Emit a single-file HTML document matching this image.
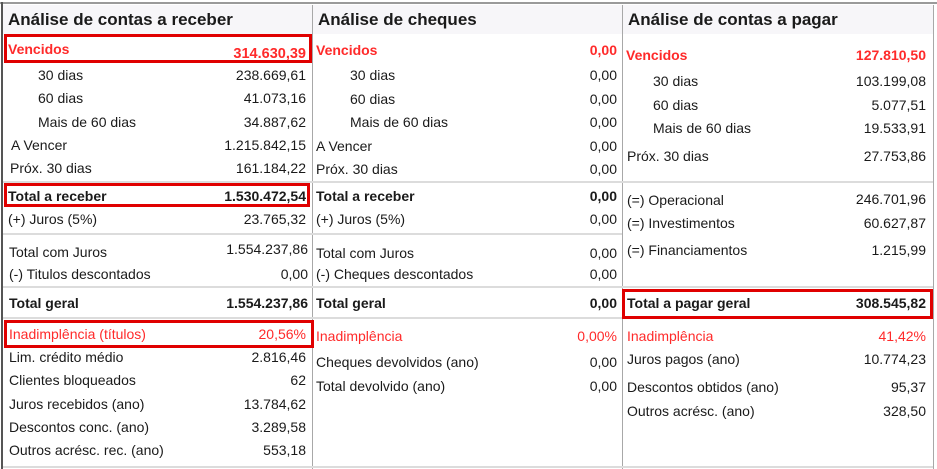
<!DOCTYPE html>
<html><head><meta charset="utf-8"><style>
body{margin:0;width:937px;height:469px;background:#fff;position:relative;overflow:hidden;font-family:"Liberation Sans",Arial,sans-serif;color:#1a1a1a}
.t{position:absolute;font-size:14px;line-height:18px;height:18px;white-space:nowrap;margin-top:1px}
.r{text-align:right}
.b{font-weight:bold}
.red{color:#ff2a2a}
.h{position:absolute;top:5px;height:29px;background:#f7f6f9;font-weight:bold;font-size:17px;line-height:29px;padding-left:5px;box-sizing:border-box}
.v{position:absolute;top:5px;width:1px;height:464px;background:#a8a8a8}
.s{position:absolute;height:2px;background:#dcdcdc}
.box{position:absolute;border:3px solid #e00000;box-sizing:border-box}
</style></head><body>
<div style="position:absolute;left:0;top:2px;width:937px;height:2px;background:#9a9a9a"></div>
<div style="position:absolute;left:1px;top:2px;width:2px;height:467px;background:#555"></div>
<div class="h" style="left:3px;width:309px">Análise de contas a receber</div>
<div class="h" style="left:313px;width:309px">Análise de cheques</div>
<div class="h" style="left:623px;width:310px">Análise de contas a pagar</div>
<div class="v" style="left:312px"></div>
<div class="v" style="left:622px"></div>
<div class="v" style="left:933px"></div>
<div class="s" style="left:3px;top:181px;width:930px"></div>
<div class="s" style="left:3px;top:233px;width:619px"></div>
<div class="s" style="left:3px;top:286px;width:930px"></div>
<div class="s" style="left:3px;top:317px;width:619px"></div>
<div class="s" style="left:3px;top:466px;width:930px"></div>

<div class="box" style="left:4px;top:34px;width:308px;height:29px"></div>
<div class="box" style="left:4px;top:183px;width:306px;height:24px"></div>
<div class="box" style="left:4px;top:320px;width:310px;height:28px"></div>
<div class="box" style="left:622px;top:289px;width:311px;height:30px"></div>

<!-- col1 -->
<div class="t b red" style="left:8px;top:39px">Vencidos</div><div class="t r b red" style="left:150px;width:156px;top:44px;font-size:14.5px">314.630,39</div>
<div class="t" style="left:38px;top:65px">30 dias</div><div class="t r" style="left:150px;width:156px;top:65px">238.669,61</div>
<div class="t" style="left:38px;top:88px">60 dias</div><div class="t r" style="left:150px;width:156px;top:88px">41.073,16</div>
<div class="t" style="left:38px;top:112px">Mais de 60 dias</div><div class="t r" style="left:150px;width:156px;top:112px">34.887,62</div>
<div class="t" style="left:11px;top:135px">A Vencer</div><div class="t r" style="left:150px;width:156px;top:135px">1.215.842,15</div>
<div class="t" style="left:10px;top:158px">Próx. 30 dias</div><div class="t r" style="left:150px;width:156px;top:158px">161.184,22</div>
<div class="t b" style="left:8px;top:186px">Total a receber</div><div class="t r b" style="left:150px;width:156px;top:186px">1.530.472,54</div>
<div class="t" style="left:8px;top:209px">(+) Juros (5%)</div><div class="t r" style="left:150px;width:156px;top:209px">23.765,32</div>
<div class="t" style="left:9px;top:242px">Total com Juros</div><div class="t r" style="left:150px;width:158px;top:239px">1.554.237,86</div>
<div class="t" style="left:9px;top:264px">(-) Titulos descontados</div><div class="t r" style="left:150px;width:158px;top:264px">0,00</div>
<div class="t b" style="left:9px;top:293px">Total geral</div><div class="t r b" style="left:150px;width:158px;top:293px">1.554.237,86</div>
<div class="t red" style="left:9px;top:324px">Inadimplência (títulos)</div><div class="t r red" style="left:150px;width:156px;top:324px">20,56%</div>
<div class="t" style="left:9px;top:347px">Lim. crédito médio</div><div class="t r" style="left:150px;width:156px;top:347px">2.816,46</div>
<div class="t" style="left:9px;top:370px">Clientes bloqueados</div><div class="t r" style="left:150px;width:156px;top:370px">62</div>
<div class="t" style="left:9px;top:394px">Juros recebidos (ano)</div><div class="t r" style="left:150px;width:156px;top:394px">13.784,62</div>
<div class="t" style="left:9px;top:417px">Descontos conc. (ano)</div><div class="t r" style="left:150px;width:156px;top:417px">3.289,58</div>
<div class="t" style="left:9px;top:440px">Outros acrésc. rec. (ano)</div><div class="t r" style="left:150px;width:156px;top:440px">553,18</div>

<!-- col2 -->
<div class="t b red" style="left:316px;top:40px">Vencidos</div><div class="t r b red" style="left:500px;width:117px;top:40px">0,00</div>
<div class="t" style="left:350px;top:65px">30 dias</div><div class="t r" style="left:500px;width:117px;top:65px">0,00</div>
<div class="t" style="left:350px;top:89px">60 dias</div><div class="t r" style="left:500px;width:117px;top:89px">0,00</div>
<div class="t" style="left:350px;top:112px">Mais de 60 dias</div><div class="t r" style="left:500px;width:117px;top:112px">0,00</div>
<div class="t" style="left:316px;top:136px">A Vencer</div><div class="t r" style="left:500px;width:117px;top:136px">0,00</div>
<div class="t" style="left:316px;top:159px">Próx. 30 dias</div><div class="t r" style="left:500px;width:117px;top:159px">0,00</div>
<div class="t b" style="left:316px;top:186px">Total a receber</div><div class="t r b" style="left:500px;width:117px;top:186px">0,00</div>
<div class="t" style="left:316px;top:209px">(+) Juros (5%)</div><div class="t r" style="left:500px;width:117px;top:209px">0,00</div>
<div class="t" style="left:316px;top:243px">Total com Juros</div><div class="t r" style="left:500px;width:117px;top:243px">0,00</div>
<div class="t" style="left:316px;top:264px">(-) Cheques descontados</div><div class="t r" style="left:500px;width:117px;top:264px">0,00</div>
<div class="t b" style="left:316px;top:293px">Total geral</div><div class="t r b" style="left:500px;width:117px;top:293px">0,00</div>
<div class="t red" style="left:316px;top:326px">Inadimplência</div><div class="t r red" style="left:500px;width:117px;top:326px">0,00%</div>
<div class="t" style="left:316px;top:352px">Cheques devolvidos (ano)</div><div class="t r" style="left:500px;width:117px;top:352px">0,00</div>
<div class="t" style="left:316px;top:376px">Total devolvido (ano)</div><div class="t r" style="left:500px;width:117px;top:376px">0,00</div>

<!-- col3 -->
<div class="t b red" style="left:626px;top:45px">Vencidos</div><div class="t r b red" style="left:780px;width:146px;top:45px">127.810,50</div>
<div class="t" style="left:653px;top:71px">30 dias</div><div class="t r" style="left:780px;width:146px;top:71px">103.199,08</div>
<div class="t" style="left:653px;top:95px">60 dias</div><div class="t r" style="left:780px;width:146px;top:95px">5.077,51</div>
<div class="t" style="left:653px;top:118px">Mais de 60 dias</div><div class="t r" style="left:780px;width:146px;top:118px">19.533,91</div>
<div class="t" style="left:627px;top:146px">Próx. 30 dias</div><div class="t r" style="left:780px;width:146px;top:146px">27.753,86</div>
<div class="t" style="left:627px;top:190px">(=) Operacional</div><div class="t r" style="left:780px;width:146px;top:189px">246.701,96</div>
<div class="t" style="left:627px;top:213px">(=) Investimentos</div><div class="t r" style="left:780px;width:146px;top:213px">60.627,87</div>
<div class="t" style="left:627px;top:240px">(=) Financiamentos</div><div class="t r" style="left:780px;width:146px;top:240px">1.215,99</div>
<div class="t b" style="left:627px;top:293px">Total a pagar geral</div><div class="t r b" style="left:780px;width:146px;top:293px">308.545,82</div>
<div class="t red" style="left:627px;top:326px">Inadimplência</div><div class="t r red" style="left:780px;width:146px;top:326px">41,42%</div>
<div class="t" style="left:627px;top:349px">Juros pagos (ano)</div><div class="t r" style="left:780px;width:146px;top:349px">10.774,23</div>
<div class="t" style="left:627px;top:377px">Descontos obtidos (ano)</div><div class="t r" style="left:780px;width:146px;top:377px">95,37</div>
<div class="t" style="left:627px;top:401px">Outros acrésc. (ano)</div><div class="t r" style="left:780px;width:146px;top:401px">328,50</div>
</body></html>
